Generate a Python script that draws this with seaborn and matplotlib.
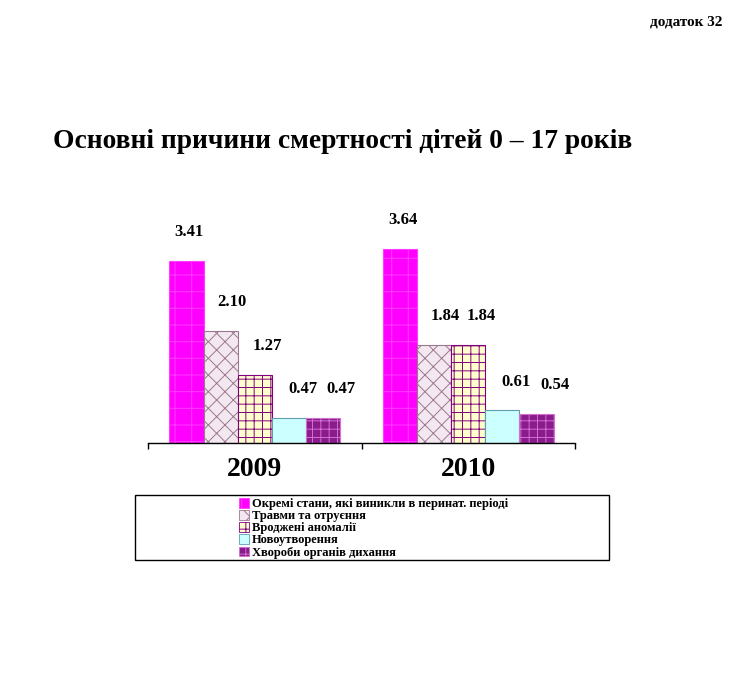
import pandas as pd
import matplotlib.pyplot as plt
import seaborn as sns
from matplotlib.patches import Patch, Rectangle

# дані з діаграми
years = ["2009", "2010"]
causes = [
    "Окремі стани, які виникли в перинат. періоді",
    "Травми та отруєння",
    "Вроджені аномалії",
    "Новоутворення",
    "Хвороби органів дихання",
]
values_2009 = [3.41, 2.10, 1.27, 0.47, 0.47]
values_2010 = [3.64, 1.84, 1.84, 0.61, 0.54]

face_colors = ["#FF00FF", "#F4E8F0", "#FFFFCC", "#CCFFFF", "#8B1A8B"]
edge_colors = ["#FF3CFF", "#9A7890", "#800080", "#5F9EA8", "#D070D0"]
hatches = ["+", "xx", "++", "", "++"]
label_dx = [2, 8, 9, 10, 13]  # зсув підписів вправо (як у 3D-оригіналі)

rows = []
for year, vals in zip(years, [values_2009, values_2010]):
    for cause, v in zip(causes, vals):
        rows.append({"year": year, "cause": cause, "value": v})
df = pd.DataFrame(rows)

sns.set_style("white")
plt.rcParams["font.family"] = ["Liberation Serif", "DejaVu Serif"]
plt.rcParams["font.weight"] = "bold"
plt.rcParams["text.color"] = "black"
plt.rcParams["xtick.color"] = "black"
plt.rcParams["hatch.linewidth"] = 0.7

fig = plt.figure(figsize=(7.37, 6.78), dpi=100)
ax = fig.add_axes([148 / 737, 1 - 443 / 678, (575 - 148) / 737, 213.6 / 678])

sns.barplot(
    data=df, x="year", y="value", hue="cause", hue_order=causes,
    palette=face_colors, saturation=1, width=0.8, gap=0, legend=False, ax=ax,
)

for i, cont in enumerate(ax.containers):
    for bar in cont:
        bar.set_edgecolor(edge_colors[i])
        bar.set_hatch(hatches[i])
        bar.set_linewidth(0.8)
    anns = ax.bar_label(cont, labels=[f"{v:.2f}" for v in cont.datavalues],
                        padding=15, fontsize=12, fontweight="bold", color="black")
    for a in anns:
        a.xyann = (label_dx[i], a.xyann[1])

ax.set_ylim(0, 4)
ax.set_xlim(-0.5, 1.5)
ax.set_xlabel("")
ax.set_ylabel("")
ax.set_yticks([])
for s in ["top", "right", "left"]:
    ax.spines[s].set_visible(False)
ax.spines["bottom"].set_color("black")
ax.spines["bottom"].set_linewidth(1)
ax.set_xticks([-0.5, 0.5, 1.5], minor=True)
ax.tick_params(axis="x", which="minor", direction="out", length=4, width=1, bottom=True)
ax.tick_params(axis="x", which="major", length=0, pad=10, labelsize=20)
for t in ax.get_xticklabels():
    t.set_fontweight("bold")

fig.text(53 / 737, 1 - 142 / 678, "Основні причини смертності дітей 0 – 17 років",
         fontsize=19.8, fontweight="bold", ha="left", va="center")
fig.text(722 / 737, 1 - 22 / 678, "додаток 32", fontsize=11,
         fontweight="bold", ha="right", va="center")

# рамка легенди
fig.patches.append(Rectangle((135 / 737, 1 - 560 / 678), (609 - 135) / 737, 65 / 678,
                             transform=fig.transFigure, fill=False,
                             edgecolor="black", linewidth=1))
handles = [Patch(facecolor=fc, edgecolor=ec, hatch=h, linewidth=0.6)
           for fc, ec, h in zip(face_colors, edge_colors, hatches)]
fig.legend(handles, causes, loc="upper left", bbox_to_anchor=(239 / 737, 1 - 498 / 678),
           frameon=False, labelspacing=0.0, handlelength=0.8,
           handleheight=0.8, handletextpad=0.25, borderpad=0, borderaxespad=0,
           prop={"weight": "bold", "size": 9})

plt.savefig("out.png", dpi=100)
